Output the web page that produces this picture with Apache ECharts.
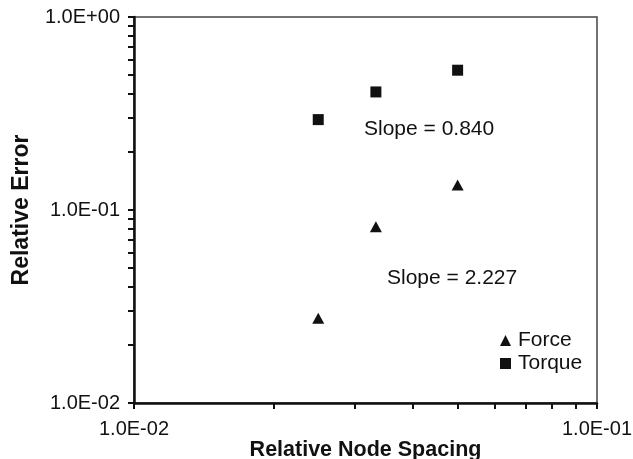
<!DOCTYPE html>
<html>
<head>
<meta charset="utf-8">
<script src="https://cdn.jsdelivr.net/npm/echarts@6/dist/echarts.min.js"></script>
<style>html,body{margin:0;padding:0;background:#fff}#c{width:633px;height:459px}</style>
</head>
<body>
<div id="c"></div>
<script>
// Data
var spacing = [0.025, 0.0333, 0.05];
var forceErr = [0.0275, 0.0818, 0.1348];
var torqueErr = [0.294, 0.409, 0.530];
var xTickValues = [0.01,0.02,0.03,0.04,0.05,0.06,0.07,0.08,0.09,0.1];
var yTickValues = [0.01,0.02,0.03,0.04,0.05,0.06,0.07,0.08,0.09,0.1,0.2,0.3,0.4,0.5,0.6,0.7,0.8,0.9,1];
var xLabelValues = [0.01, 0.1];
var xTickLabels = ['1.0E-02', '1.0E-01'];
var yLabelValues = [0.01, 0.1, 1];
var yTickLabels = ['1.0E-02', '1.0E-01', '1.0E+00'];
var slopeTexts = ['Slope = 0.840', 'Slope = 2.227'];

function lbl(vals, labels) {
  return function (v) {
    for (var i = 0; i < vals.length; i++) {
      if (Math.abs(Math.log10(v) - Math.log10(vals[i])) < 1e-6) return labels[i];
    }
    return '';
  };
}

var font = '"Liberation Sans", Arial, sans-serif';
var ink = '#111';
var chart = echarts.init(document.getElementById('c'), null, {renderer: 'canvas'});
chart.setOption({
  animation: false,
  backgroundColor: '#fff',
  textStyle: {fontFamily: font},
  grid: {left: 134, top: 17, right: 36, bottom: 56, outerBoundsMode: 'none', containLabel: false,
         show: true, borderColor: '#444', borderWidth: 1.5, backgroundColor: 'transparent'},
  xAxis: {
    type: 'log', logBase: 10, min: 0.01, max: 0.1,
    name: 'Relative Node Spacing', nameLocation: 'middle', nameGap: 36, nameMoveOverlap: false,
    nameTextStyle: {fontFamily: font, fontSize: 21.5, fontWeight: 'bold', color: ink},
    axisLine: {lineStyle: {color: ink, width: 2.5}},
    axisTick: {show: true, inside: false, length: 6, lineStyle: {color: ink, width: 2}, customValues: xTickValues},
    axisLabel: {fontFamily: font, fontSize: 20, color: ink, margin: 16, customValues: xLabelValues, formatter: lbl(xLabelValues, xTickLabels)},
    splitLine: {show: false}, minorTick: {show: false}
  },
  yAxis: {
    type: 'log', logBase: 10, min: 0.01, max: 1,
    name: 'Relative Error', nameLocation: 'middle', nameGap: 101, nameMoveOverlap: false,
    nameTextStyle: {fontFamily: font, fontSize: 23, fontWeight: 'bold', color: ink},
    axisLine: {lineStyle: {color: ink, width: 2.5}},
    axisTick: {show: true, inside: false, length: 6, lineStyle: {color: ink, width: 2}, customValues: yTickValues},
    axisLabel: {fontFamily: font, fontSize: 20, color: ink, margin: 14, customValues: yLabelValues, formatter: lbl(yLabelValues, yTickLabels)},
    splitLine: {show: false}, minorTick: {show: false}
  },
  legend: {
    orient: 'vertical', left: 495, top: 325, itemGap: 2, itemWidth: 11, itemHeight: 11,
    textStyle: {fontFamily: font, fontSize: 21, color: ink, padding: [0, 0, 0, 2]},
    itemStyle: {opacity: 1},
    data: [{name: 'Force', icon: 'triangle'}, {name: 'Torque', icon: 'rect'}]
  },
  graphic: [
    {type: 'text', left: 364, top: 119, style: {text: slopeTexts[0], font: '21px ' + font, fill: ink}},
    {type: 'text', left: 387, top: 268, style: {text: slopeTexts[1], font: '21px ' + font, fill: ink}}
  ],
  series: [
    {name: 'Force', type: 'scatter', symbol: 'triangle', symbolSize: [12, 11], itemStyle: {color: ink, opacity: 1},
     data: spacing.map(function (x, i) { return [x, forceErr[i]]; })},
    {name: 'Torque', type: 'scatter', symbol: 'rect', symbolSize: 11, itemStyle: {color: ink, opacity: 1},
     data: spacing.map(function (x, i) { return [x, torqueErr[i]]; })}
  ]
});
</script>
</body>
</html>
